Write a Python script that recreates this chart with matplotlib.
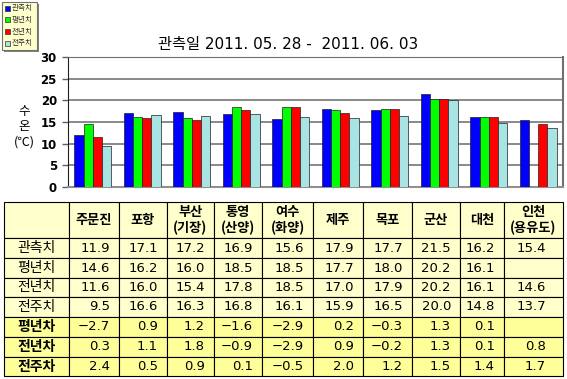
import matplotlib
matplotlib.use('Agg')
import matplotlib.pyplot as plt
from matplotlib.patches import Rectangle
import numpy as np

plt.rcParams['font.family'] = ['Noto Sans CJK KR', 'DejaVu Sans']
NUM_FONT = ['DejaVu Sans', 'Noto Sans CJK KR']

stations = ['주문진', '포항', '부산\n(기장)', '통영\n(산양)', '여수\n(화양)',
            '제주', '목포', '군산', '대천', '인천\n(용유도)']
series_names = ['관측치', '평년치', '전년치', '전주치']
observed = [11.9, 17.1, 17.2, 16.9, 15.6, 17.9, 17.7, 21.5, 16.2, 15.4]
normal = [14.6, 16.2, 16.0, 18.5, 18.5, 17.7, 18.0, 20.2, 16.1, None]
last_year = [11.6, 16.0, 15.4, 17.8, 18.5, 17.0, 17.9, 20.2, 16.1, 14.6]
last_week = [9.5, 16.6, 16.3, 16.8, 16.1, 15.9, 16.5, 20.0, 14.8, 13.7]
diff_names = ['평년차', '전년차', '전주차']
diff_normal = [-2.7, 0.9, 1.2, -1.6, -2.9, 0.2, -0.3, 1.3, 0.1, None]
diff_last_year = [0.3, 1.1, 1.8, -0.9, -2.9, 0.9, -0.2, 1.3, 0.1, 0.8]
diff_last_week = [2.4, 0.5, 0.9, 0.1, -0.5, 2.0, 1.2, 1.5, 1.4, 1.7]

colors = ['#0000FF', '#00FF00', '#FF0000', '#A8E4E4']

W, H = 567, 379
fig = plt.figure(figsize=(W / 100, H / 100), dpi=100)

# bar chart
ax = fig.add_axes([68 / W, (H - 187) / H, (563 - 68) / W, 130 / H])
x = np.arange(len(stations))
bw = 0.185
all_series = [observed, normal, last_year, last_week]
for i, vals in enumerate(all_series):
    v = np.array([np.nan if a is None else a for a in vals], dtype=float)
    ax.bar(x + (i - 1.5) * bw, v, bw, color=colors[i], edgecolor='#202020',
           linewidth=0.5, zorder=3)
ax.set_xlim(-0.5, len(stations) - 0.5)
ax.set_ylim(0, 30)
ax.set_yticks(range(0, 31, 5))
ax.set_xticks([])
for y in range(5, 30, 5):
    ax.axhline(y, color='#808080', lw=1.3, zorder=1)
for lab in ax.get_yticklabels():
    lab.set_fontweight('bold')
    lab.set_fontsize(8.5)
    lab.set_family(NUM_FONT)
ax.tick_params(axis='y', length=4, width=1, color='#606060', pad=4)
ax.spines['left'].set_color('#202020')
ax.spines['top'].set_color('#707070')
ax.spines['right'].set_color('#707070')
ax.spines['bottom'].set_color('#909090')
ax.spines['right'].set_linewidth(1.5)
ax.spines['bottom'].set_linewidth(1.5)

fig.text(288 / W, 1 - 44 / H, '관측일 2011. 05. 28 -  2011. 06. 03',
         ha='center', va='center', fontsize=11, family=NUM_FONT)
fig.text(24 / W, 1 - 127 / H, '수\n온\n(℃)', ha='center', va='center',
         fontsize=9, linespacing=1.2)

# overlay in pixel coordinates for legend and table
ov = fig.add_axes([0, 0, 1, 1])
ov.set_xlim(0, W)
ov.set_ylim(H, 0)
ov.axis('off')

# legend box
ov.add_patch(Rectangle((4, 4), 35, 48, facecolor='#808080', edgecolor='none'))
ov.add_patch(Rectangle((2, 2), 35, 48, facecolor='#FFFFCC', edgecolor='#707070', lw=0.8))
for i, name in enumerate(series_names):
    yy = 8 + i * 11.8
    ov.add_patch(Rectangle((5, yy - 2.5), 5, 5, facecolor=colors[i], edgecolor='#303030', lw=0.5))
    ov.text(12, yy, name, fontsize=5.5, va='center', ha='left', color='#303030')

# table
col_edges = [4, 69, 119, 167, 214, 262, 313, 363, 412, 460, 504, 563]
row_edges = [202, 238, 258, 278, 297, 317, 337, 357, 376]
rows = [observed, normal, last_year, last_week, diff_normal, diff_last_year, diff_last_week]
row_names = series_names + diff_names
light = '#FFFFCC'
strong = '#FFFF99'

for c in range(len(col_edges) - 1):
    x0, x1 = col_edges[c], col_edges[c + 1]
    for r in range(len(row_edges) - 1):
        y0, y1 = row_edges[r], row_edges[r + 1]
        fc = strong if r >= 5 else light
        ov.add_patch(Rectangle((x0, y0), x1 - x0, y1 - y0, facecolor=fc,
                               edgecolor='#000000', lw=0.8))
        xc, yc = (x0 + x1) / 2, (y0 + y1) / 2
        if r == 0:
            if c > 0:
                ov.text(xc, yc, stations[c - 1], ha='center', va='center',
                        fontsize=9.5, fontweight='bold', linespacing=1.15)
            continue
        if c == 0:
            bold = r >= 5
            ov.text(xc, yc, row_names[r - 1], ha='center', va='center',
                    fontsize=10, fontweight='bold' if bold else 'normal')
        else:
            val = rows[r - 1][c - 1]
            if val is not None:
                txt = f'{val:.1f}'.replace('-', '−')
                pad = 17 if c == len(col_edges) - 2 else 9
                ov.text(x1 - pad, yc, txt, ha='right', va='center', fontsize=9.5,
                        family=NUM_FONT)

fig.savefig('out.png', dpi=100)
